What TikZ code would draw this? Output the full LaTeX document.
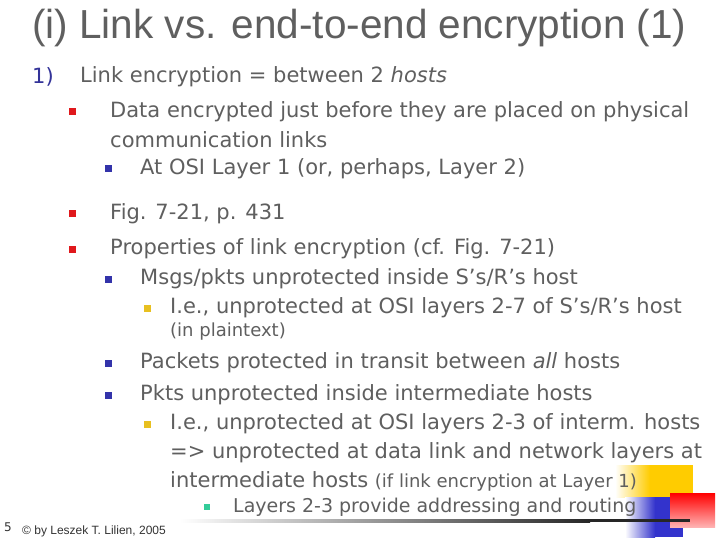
\documentclass[tikz,border=0pt]{standalone}
\usepackage{fontspec}
\setmainfont{DejaVu Sans}
\newfontfamily\titlefont{Liberation Sans}
\definecolor{txt}{HTML}{5F5F5F}
\definecolor{navy}{HTML}{333399}
\definecolor{bred}{HTML}{E0181C}
\definecolor{bblue}{HTML}{3333AA}
\definecolor{byel}{HTML}{E8C020}
\definecolor{bgreen}{HTML}{33CC99}
\definecolor{dyel}{HTML}{FFCC00}
\definecolor{dblue}{HTML}{3333CC}
\begin{document}
\begin{tikzpicture}[x=1pt,y=-1pt,
  t/.style={anchor=west,inner sep=0pt,text=txt,font=\fontsize{21}{21}\selectfont},
  ts/.style={anchor=west,inner sep=0pt,text=txt,font=\fontsize{19}{19}\selectfont},
  sq/.style={fill=#1,minimum size=7pt,inner sep=0pt}]
\useasboundingbox (0,0) rectangle (720,540);
\fill[white] (0,0) rectangle (720,540);
% decoration
\shade[left color=white,right color=dyel] (615,465) rectangle (650,497);
\fill[dyel] (650,465) rectangle (693,497);
\shade[left color=white,right color=dblue] (625,497) rectangle (655,537);
\fill[dblue] (655,497) rectangle (683,537);
\shade[left color=red,right color=white!70!red,shading angle=0] (670,493) rectangle (715,527);
\shade[left color=white,right color=black!85] (180,519) rectangle (590,522);
\fill[black!85] (590,519) rectangle (690,522);
% title
\node[anchor=west,inner sep=0pt,text=txt,font=\titlefont\fontsize{40.5}{40.5}\selectfont] (title) at (32,28) {(i) Link vs. end-to-end encryption (1)};
\node[t,text=navy] (n1) at (32,77) {1)};
\node[t] (l1) at (80,77) {Link encryption = between 2 \textit{hosts}};
\node[sq=bred] (b1) at (72,112) {};
\node[t] (a1) at (110,112) {Data encrypted just before they are placed on physical};
\node[t] (a2) at (110,140) {communication links};
\node[sq=bblue] (b2) at (108,169) {};
\node[t] (a3) at (140,169) {At OSI Layer 1 (or, perhaps, Layer 2)};
\node[sq=bred] (b3) at (72,214) {};
\node[t] (a4) at (110,214) {Fig. 7-21, p. 431};
\node[sq=bred] (b4) at (72,249) {};
\node[t] (a5) at (110,249) {Properties of link encryption (cf. Fig. 7-21)};
\node[sq=bblue] (b5) at (108,279) {};
\node[t] (a6) at (140,279) {Msgs/pkts unprotected inside S’s/R’s host};
\node[sq=byel] (b6) at (147,308) {};
\node[t] (a7) at (170,308) {I.e., unprotected at OSI layers 2-7 of S’s/R’s host};
\node[anchor=west,inner sep=0pt,text=txt,font=\fontsize{18}{18}\selectfont] (a8) at (170,332) {(in plaintext)};
\node[sq=bblue] (b7) at (108,363) {};
\node[t] (a9) at (140,363) {Packets protected in transit between \textit{all} hosts};
\node[sq=bblue] (b8) at (108,395) {};
\node[t] (a10) at (140,395) {Pkts unprotected inside intermediate hosts};
\node[sq=byel] (b9) at (147,424) {};
\node[t] (a11) at (170,424) {I.e., unprotected at OSI layers 2-3 of interm. hosts};
\node[t] (a12) at (170,453) {=> unprotected at data link and network layers at};
\node[t] (a13) at (170,481) {intermediate hosts {\fontsize{18}{18}\selectfont(if link encryption at Layer 1)}};
\node[sq=bgreen,minimum size=6pt] (b10) at (207,507) {};
\node[ts] (a14) at (233,507) {Layers 2-3 provide addressing and routing};
\node[anchor=west,inner sep=0pt,text=black!80,font=\fontsize{12}{12}\selectfont] (pg) at (4,527) {5};
\node[anchor=west,inner sep=0pt,text=black!80,font=\titlefont\fontsize{12}{12}\selectfont] (ft) at (22,531) {© by Leszek T. Lilien, 2005};
\end{tikzpicture}
\end{document}
